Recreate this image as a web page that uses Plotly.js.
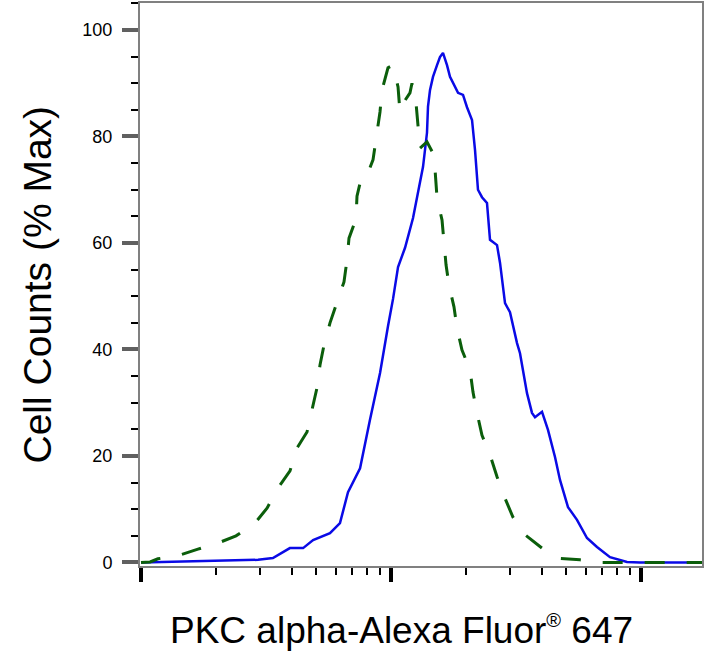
<!DOCTYPE html>
<html>
<head>
<meta charset="utf-8">
<script src="https://cdn.plot.ly/plotly-3.0.1.min.js"></script>
<style>
  html, body { margin: 0; padding: 0; background: #fff; }
  #histogram { width: 717px; height: 665px; }
</style>
</head>
<body>
<div id="histogram"></div>
<script>
// Stained sample (blue, solid): fluorescence intensity vs % of max count
const stainedX = [1.00, 1.43, 2.13, 2.94, 3.37, 3.94, 4.45, 4.88, 5.70, 6.25,
                  6.73, 7.52, 8.24, 9.04, 9.73, 10.19, 10.67, 11.38, 12.25, 12.82,
                  13.43, 13.93, 14.06, 14.32, 14.72, 15.28, 15.70, 16.14, 16.75, 17.22,
                  18.03, 18.54, 19.41, 20.14, 21.09, 21.68, 22.28, 23.12, 24.21, 24.89,
                  26.55, 27.29, 28.58, 29.92, 31.92, 32.81, 34.99, 36.64, 37.67, 40.18,
                  42.46, 45.29, 47.42, 51.05, 55.46, 60.81, 66.68, 75.16, 87.90, 99.08,
                  175.4];
const stainedY = [0, 0.2, 0.3, 0.5, 0.85, 2.7, 2.7, 4.2, 5.5, 7.4,
                  13.2, 17.7, 26.8, 35.6, 44.4, 49.5, 55.5, 59.1, 64.7, 69.4,
                  74.3, 80.7, 85.6, 88.7, 91.2, 93.4, 94.9, 95.7, 93.4, 91.2,
                  89.3, 88.2, 87.8, 85.5, 83.1, 77.5, 70.0, 68.6, 67.5, 60.6,
                  59.6, 56.3, 48.7, 47.0, 41.2, 39.3, 31.8, 28.1, 27.3, 28.3,
                  24.9, 19.8, 15.5, 10.4, 8.0, 4.6, 2.9, 1.0, 0.1, 0, 0];

// Isotype control (green, dashed)
const controlX = [1.00, 1.087, 1.169, 1.432, 1.690, 2.070, 2.399, 2.858, 3.192, 3.532,
                  3.945, 4.207, 4.613, 4.831, 5.058, 5.200, 5.395, 5.702, 6.081, 6.486,
                  6.668, 6.792, 7.244, 7.311, 7.656, 8.091, 8.472, 8.790, 9.036, 9.204,
                  9.727, 10.19, 10.67, 10.86, 11.38, 11.91, 12.13, 12.59, 12.82, 13.06,
                  13.93, 14.86, 15.28, 16.00, 16.29, 16.60, 17.06, 17.86, 18.37, 19.23,
                  20.70, 21.28, 22.08, 23.12, 24.89, 26.55, 28.31, 30.76, 34.36, 40.18,
                  46.56, 57.02, 69.82, 86.30, 175.4];
const controlY = [0, 0.1, 0.7, 1.4, 2.5, 3.8, 5.0, 7.4, 10.2, 14.0,
                  17.2, 21.5, 24.5, 28.6, 32.8, 37.1, 40.8, 45.0, 48.7, 52.7,
                  56.8, 60.9, 64.5, 68.8, 72.8, 73.2, 75.6, 80.3, 84.6, 88.7,
                  92.9, 93.4, 89.3, 84.6, 86.8, 88.2, 90.0, 86.3, 81.8, 77.8,
                  79.0, 76.5, 68.5, 64.3, 60.2, 55.9, 52.1, 48.0, 44.0, 39.9,
                  36.2, 32.0, 28.1, 23.9, 20.2, 16.1, 12.5, 8.5, 5.2, 2.7,
                  0.8, 0.5, 0, 0, 0];

const yMajorTicks = [0, 20, 40, 60, 80, 100];
const xMajorTicks = [1, 10, 100];
const xMinorTicks = [2, 3, 4, 5, 6, 7, 8, 9, 20, 30, 40, 50, 60, 70, 80, 90];

const font = 'Liberation Sans, Arial, sans-serif';

const data = [
    {
        x: stainedX,
        y: stainedY,
        type: 'scatter',
        mode: 'lines',
        showlegend: false,
        hoverinfo: 'skip',
        line: { color: '#0a0ae6', width: 2.5 }
    },
    {
        x: controlX,
        y: controlY,
        type: 'scatter',
        mode: 'lines',
        showlegend: false,
        hoverinfo: 'skip',
        line: { color: '#0b5e0b', width: 3, dash: '20px,22px' }
    }
];

const layout = {
    width: 717,
    height: 665,
    margin: { l: 140, r: 15, t: 3, b: 99 },
    paper_bgcolor: '#ffffff',
    plot_bgcolor: '#ffffff',
    xaxis: {
        type: 'log',
        range: [-0.004, 2.244],
        tickmode: 'array',
        tickvals: xMajorTicks,
        showticklabels: false,
        ticks: 'outside',
        ticklen: 14,
        tickwidth: 4,
        tickcolor: '#000000',
        minor: {
            tickmode: 'array',
            tickvals: xMinorTicks,
            ticks: 'outside',
            ticklen: 7,
            tickwidth: 2,
            tickcolor: '#000000',
            showgrid: false
        },
        showline: true,
        linecolor: '#808080',
        linewidth: 2,
        mirror: true,
        showgrid: false,
        zeroline: false
    },
    yaxis: {
        range: [-0.66, 105.07],
        tickmode: 'array',
        tickvals: yMajorTicks,
        ticks: 'outside',
        ticklen: 16,
        tickwidth: 4,
        tickcolor: '#606060',
        ticklabelstandoff: 6,
        tickfont: { family: font, size: 18, color: '#000000' },
        minor: {
            dtick: 5,
            tick0: 0,
            ticks: 'outside',
            ticklen: 7,
            tickwidth: 2,
            tickcolor: '#000000',
            showgrid: false
        },
        showline: true,
        linecolor: '#808080',
        linewidth: 2,
        mirror: true,
        showgrid: false,
        zeroline: false
    },
    annotations: [
        {
            text: 'PKC alpha-Alexa Fluor<sup><span style="font-size:20px">®</span></sup> 647',
            xref: 'paper', yref: 'paper',
            x: 0.466, y: -0.114,
            xanchor: 'center', yanchor: 'middle',
            showarrow: false,
            font: { family: font, size: 37, color: '#000000' }
        },
        {
            text: 'Cell Counts (% Max)',
            xref: 'paper', yref: 'paper',
            x: -0.1815, y: 0.5,
            xanchor: 'center', yanchor: 'middle',
            textangle: -90,
            showarrow: false,
            font: { family: font, size: 39, color: '#000000' }
        }
    ]
};

Plotly.newPlot('histogram', data, layout, { displayModeBar: false, staticPlot: true });
</script>
</body>
</html>
